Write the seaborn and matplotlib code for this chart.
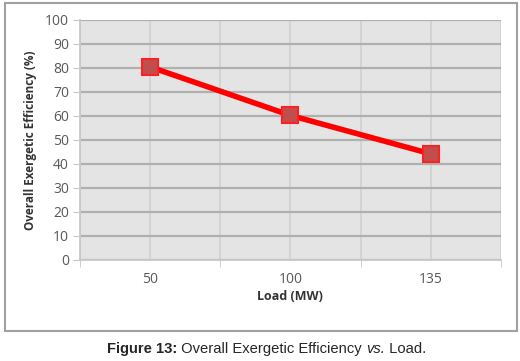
import matplotlib
matplotlib.use('Agg')
import matplotlib.pyplot as plt
from matplotlib.patches import Rectangle
from matplotlib.ticker import FixedLocator
import seaborn as sns
import pandas as pd

load = ['50', '100', '135']
efficiency = [80.4, 60.2, 44.2]
y_ticks = list(range(0, 101, 10))

sns.set_style('white')
plt.rcParams['font.family'] = ['Open Sans', 'DejaVu Sans']

df = pd.DataFrame({'Load (MW)': load, 'Efficiency': efficiency})

fig = plt.figure(figsize=(5.2, 3.61), dpi=100)
ax = fig.add_axes([0.154, 0.28, 0.809, 0.665])
ax.set_facecolor('#e4e4e4')

sns.lineplot(data=df, x='Load (MW)', y='Efficiency', ax=ax, color='#ff0000',
             linewidth=4, marker='s', markersize=11, markerfacecolor='#c24d4d',
             markeredgecolor='#ff2020', markeredgewidth=1.5, sort=False, zorder=5)

ax.set_xlim(-0.5, 2.5)
ax.set_ylim(0, 100)
ax.set_yticks(y_ticks)
ax.xaxis.set_minor_locator(FixedLocator([-0.5, 0.5, 1.5, 2.5]))

ax.grid(axis='y', which='major', color='#b0b0b0', linewidth=1.6)
ax.grid(axis='x', which='major', color='#d2d2d2', linewidth=1.3)
ax.grid(axis='x', which='minor', color='#d2d2d2', linewidth=1.3)
ax.set_axisbelow(True)

for side in ['top', 'right']:
    ax.spines[side].set_visible(False)
for side in ['left', 'bottom']:
    ax.spines[side].set_color('#c8c8c8')
    ax.spines[side].set_linewidth(1.3)

ax.tick_params(axis='y', which='major', left=True, length=5, color='#c8c8c8',
               labelsize=10, labelcolor='#595959', pad=3)
ax.tick_params(axis='x', which='major', bottom=False, labelsize=10,
               labelcolor='#595959', pad=5)
ax.tick_params(axis='x', which='minor', bottom=True, length=5, color='#c8c8c8')

ax.set_xlabel('Load (MW)', fontsize=9, fontweight='bold', color='#333333', labelpad=2)
ax.set_ylabel('Overall Exergetic Efficiency (%)', fontsize=8.5, fontweight='bold',
              color='#333333', labelpad=6)

# outer frame
fig.patches.append(Rectangle((5 / 520, 1 - 331 / 361), 512 / 520, 328 / 361,
                             transform=fig.transFigure, fill=False,
                             edgecolor='#a0a0a0', linewidth=1.5))

# caption with mixed styles
fig.canvas.draw()
r = fig.canvas.get_renderer()
parts = [('Figure 13:', 'bold', 'normal'), (' Overall Exergetic Efficiency ', 'normal', 'normal'),
         ('vs.', 'normal', 'italic'), (' Load.', 'normal', 'normal')]
widths = []
texts = []
for s, w, st in parts:
    t = fig.text(0, 8 / 361, s, fontsize=10.6, fontweight=w, fontstyle=st,
                 family=['Liberation Sans', 'DejaVu Sans'], va='baseline')
    widths.append(t.get_window_extent(r).width)
    texts.append(t)
x0 = (520 * 0.513 - sum(widths) / 2)
for t, w in zip(texts, widths):
    t.set_x(x0 / 520)
    x0 += w

fig.savefig('out.png', dpi=100)
